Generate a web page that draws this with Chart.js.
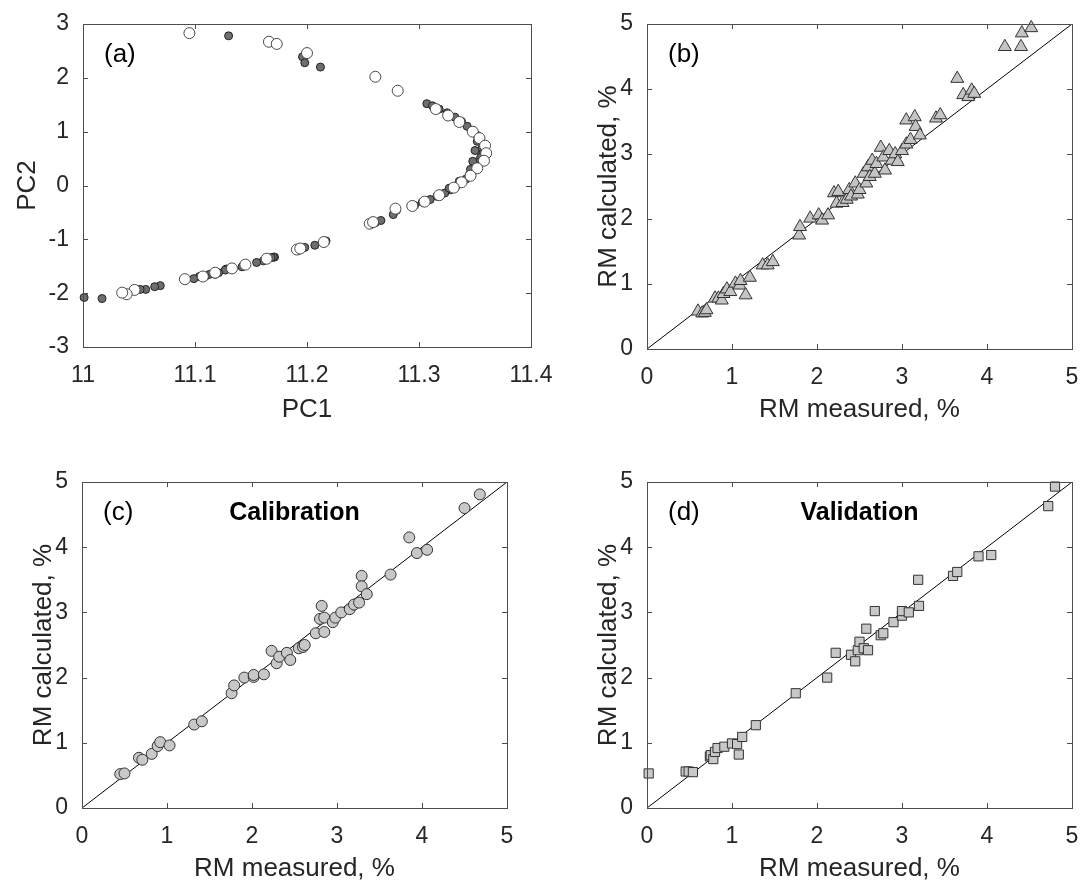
<!DOCTYPE html>
<html>
<head>
<meta charset="utf-8">
<script src="https://cdn.jsdelivr.net/npm/chart.js@4.4.1/dist/chart.umd.min.js"></script>
<style>
    body { margin: 0; background: #fff; overflow: hidden; }
    #wrap { position: relative; width: 1084px; height: 890px; background: #fff; }
    canvas { position: absolute; }
</style>
</head>
<body>
<div id="wrap">
    <canvas id="chart-a" width="560" height="440" style="left:0;top:0"></canvas>
    <canvas id="chart-b" width="524" height="440" style="left:560px;top:0"></canvas>
    <canvas id="chart-c" width="560" height="450" style="left:0;top:440px"></canvas>
    <canvas id="chart-d" width="524" height="450" style="left:560px;top:440px"></canvas>
</div>
<script>
// Panel (a): PCA scores, two groups
const aOpenX = [11.095, 11.166, 11.173, 11.200, 11.261, 11.281,
    11.315, 11.326, 11.336, 11.348, 11.354, 11.359, 11.360, 11.358, 11.352, 11.346, 11.338, 11.331, 11.318, 11.305, 11.294,
    11.279, 11.256, 11.259, 11.191, 11.194, 11.215, 11.164, 11.145, 11.133, 11.118, 11.107, 11.091, 11.046, 11.039, 11.035];
const aOpenY = [2.83, 2.67, 2.63, 2.46, 2.02, 1.76,
    1.42, 1.30, 1.18, 1.00, 0.88, 0.74, 0.60, 0.46, 0.32, 0.18, 0.06, -0.04, -0.18, -0.30, -0.38,
    -0.43, -0.71, -0.68, -1.19, -1.17, -1.05, -1.36, -1.47, -1.54, -1.62, -1.69, -1.74, -1.94, -2.02, -1.99];
const aFillX = [11.130, 11.196, 11.198, 11.212,
    11.307, 11.312, 11.318, 11.325, 11.332, 11.338, 11.343, 11.348, 11.352, 11.355, 11.357, 11.356, 11.357, 11.355, 11.354,
    11.351, 11.349, 11.345, 11.342, 11.338, 11.333, 11.328, 11.323, 11.316, 11.310, 11.303, 11.296, 11.350, 11.352, 11.348,
    11.346, 11.336, 11.327,
    11.277, 11.280, 11.261, 11.266, 11.198, 11.207, 11.217, 11.171, 11.170, 11.168, 11.161, 11.155, 11.144, 11.142,
    11.128, 11.127, 11.121, 11.118, 11.113, 11.109, 11.104, 11.099, 11.069, 11.064, 11.056, 11.051, 11.017, 11.001];
const aFillY = [2.78, 2.39, 2.28, 2.20,
    1.52, 1.48, 1.42, 1.35, 1.27, 1.19, 1.10, 1.02, 0.93, 0.84, 0.76, 0.68, 0.60, 0.52, 0.44,
    0.36, 0.28, 0.20, 0.12, 0.05, -0.02, -0.08, -0.14, -0.20, -0.26, -0.31, -0.37, 0.65, 0.82, 0.45,
    0.30, 0.08, -0.05,
    -0.54, -0.46, -0.69, -0.65, -1.15, -1.11, -1.03, -1.33, -1.33, -1.34, -1.40, -1.43, -1.49, -1.51,
    -1.55, -1.57, -1.62, -1.65, -1.65, -1.69, -1.69, -1.73, -1.86, -1.88, -1.93, -1.93, -2.10, -2.08];
const aTicksX = [11, 11.1, 11.2, 11.3, 11.4];
const aTickLabelsX = ['11', '11.1', '11.2', '11.3', '11.4'];
const aTicksY = [-3, -2, -1, 0, 1, 2, 3];

// Panel (b): RM measured vs calculated (all samples)
const bX = [0.60, 0.65, 0.68, 0.70, 0.80, 0.84, 0.88, 0.90, 0.94, 0.98, 1.04, 1.09, 1.10, 1.16, 1.21, 1.36, 1.42, 1.48,
    1.79, 1.80, 1.92, 2.02, 2.06, 2.13, 2.20, 2.23, 2.25, 2.30, 2.35, 2.38, 2.40, 2.45, 2.48, 2.50, 2.55, 2.58, 2.60,
    2.62, 2.65, 2.68, 2.70, 2.75, 2.78, 2.80, 2.85, 2.88, 2.92, 2.95, 3.00, 3.05, 3.05, 3.10, 3.15, 3.16, 3.21, 3.40,
    3.45, 3.65, 3.72, 3.78, 3.82, 3.85, 4.21, 4.40, 4.41, 4.52];
const bY = [0.58, 0.55, 0.56, 0.60, 0.78, 0.78, 0.75, 0.85, 0.92, 0.88, 1.01, 0.98, 1.05, 0.83, 1.10, 1.29, 1.29, 1.34,
    1.75, 1.88, 2.01, 2.06, 1.98, 2.06, 2.40, 2.24, 2.42, 2.25, 2.30, 2.45, 2.35, 2.55, 2.38, 2.45, 2.70, 2.55, 2.80,
    2.65, 2.90, 2.70, 2.85, 3.10, 2.95, 2.75, 3.05, 2.90, 3.00, 2.88, 3.05, 3.15, 3.52, 3.22, 3.57, 3.42, 3.29, 3.55,
    3.60, 4.16, 3.91, 3.88, 3.98, 3.93, 4.65, 4.65, 4.86, 4.94];

// Panel (c): calibration set
const cX = [0.45, 0.50, 0.67, 0.71, 0.82, 0.89, 0.92, 1.03, 1.32, 1.41, 1.76, 1.79, 1.91, 2.02, 2.02, 2.14, 2.23, 2.29,
    2.32, 2.41, 2.45, 2.55, 2.60, 2.62, 2.75, 2.80, 2.82, 2.85, 2.85, 2.95, 2.98, 3.05, 3.15, 3.20, 3.26, 3.29, 3.29,
    3.35, 3.63, 3.85, 3.94, 4.06, 4.50, 4.68];
const cY = [0.52, 0.53, 0.77, 0.74, 0.83, 0.95, 1.01, 0.96, 1.28, 1.33, 1.76, 1.88, 2.00, 2.01, 2.04, 2.05, 2.41, 2.22,
    2.32, 2.38, 2.27, 2.45, 2.47, 2.50, 2.68, 2.90, 3.10, 2.70, 2.92, 2.85, 2.92, 3.00, 3.05, 3.12, 3.15, 3.56, 3.40,
    3.28, 3.58, 4.15, 3.91, 3.96, 4.60, 4.81];

// Panel (d): validation set
const dX = [0.02, 0.455, 0.49, 0.54, 0.74, 0.75, 0.78, 0.80, 0.83, 0.91, 1.00, 1.06, 1.08, 1.12, 1.28, 1.75, 2.12, 2.22,
    2.40, 2.45, 2.48, 2.50, 2.55, 2.60, 2.58, 2.68, 2.75, 2.78, 2.90, 3.00, 3.00, 3.08, 3.20, 3.19, 3.60, 3.65, 3.90,
    4.05, 4.72, 4.80];
const dY = [0.53, 0.56, 0.56, 0.55, 0.79, 0.81, 0.75, 0.86, 0.92, 0.94, 0.99, 0.98, 0.82, 1.09, 1.27, 1.76, 2.00, 2.38,
    2.35, 2.25, 2.42, 2.55, 2.45, 2.42, 2.75, 3.02, 2.65, 2.68, 2.85, 2.95, 3.02, 3.00, 3.10, 3.50, 3.56, 3.62, 3.86,
    3.88, 4.63, 4.93];

// Shared RM axes and 1:1 line
const rmTicks = [0, 1, 2, 3, 4, 5];
const lineX = [0, 5];
const lineY = [0, 5];

const FONT = "'Liberation Sans', Arial, sans-serif";
const TEXT_COLOR = '#262626';

const toPoints = (xs, ys) => xs.map((x, i) => ({ x: x, y: ys[i] }));

// Builds one linear axis with a fixed size so the plot boxes line up
function makeAxis(min, max, ticks, labels, title, size, titlePad, tickPad) {
    return {
        type: 'linear',
        min: min,
        max: max,
        afterBuildTicks: scale => { scale.ticks = ticks.map(v => ({ value: v })); },
        afterFit: scale => {
            if (scale.isHorizontal()) scale.height = size;
            else scale.width = size;
            // labels may overflow the plot box, like in MATLAB
            scale.paddingLeft = 0;
            scale.paddingRight = 0;
            scale.paddingTop = 0;
            scale.paddingBottom = 0;
        },
        grid: { display: false, drawTicks: false, tickLength: 0 },
        border: { display: false },
        ticks: {
            autoSkip: false,
            maxRotation: 0,
            padding: tickPad,
            color: TEXT_COLOR,
            font: { family: FONT, size: 23 },
            callback: (value, index) => labels ? labels[index] : String(value)
        },
        title: {
            display: true,
            text: title,
            color: TEXT_COLOR,
            font: { family: FONT, size: 26 },
            padding: { top: titlePad, bottom: titlePad }
        }
    };
}

// Box with inward ticks, panel letter and optional title (MATLAB look)
const boxPlugin = {
    id: 'matlabBox',
    afterDatasetsDraw(chart, args, opts) {
        const { ctx, chartArea: a } = chart;
        const x = chart.scales.x, y = chart.scales.y;
        ctx.save();
        ctx.strokeStyle = '#4d4d4d';
        ctx.lineWidth = 1;
        ctx.strokeRect(Math.round(a.left) + 0.5, Math.round(a.top) + 0.5, Math.round(a.width), Math.round(a.height));
        ctx.beginPath();
        x.ticks.forEach(t => {
            const px = Math.round(x.getPixelForValue(t.value)) + 0.5;
            ctx.moveTo(px, a.bottom); ctx.lineTo(px, a.bottom - 5);
            ctx.moveTo(px, a.top); ctx.lineTo(px, a.top + 5);
        });
        y.ticks.forEach(t => {
            const py = Math.round(y.getPixelForValue(t.value)) + 0.5;
            ctx.moveTo(a.left, py); ctx.lineTo(a.left + 5, py);
            ctx.moveTo(a.right, py); ctx.lineTo(a.right - 5, py);
        });
        ctx.stroke();

        ctx.fillStyle = '#000';
        ctx.textBaseline = 'middle';
        ctx.font = '26px ' + FONT;
        ctx.textAlign = 'left';
        ctx.fillText(opts.label, a.left + 21, a.top + 31);
        if (opts.title) {
            ctx.font = 'bold 25px ' + FONT;
            ctx.textAlign = 'center';
            ctx.fillText(opts.title, (a.left + a.right) / 2, a.top + 31);
        }
        ctx.restore();
    }
};

function scatterSet(points, style) {
    return Object.assign({ type: 'scatter', data: points, borderWidth: 1, clip: false }, style);
}

function lineSet() {
    return {
        type: 'line',
        data: toPoints(lineX, lineY),
        borderColor: '#000',
        borderWidth: 1,
        pointRadius: 0,
        order: 10
    };
}

function makeChart(id, datasets, xAxis, yAxis, padding, plugOpts) {
    const ctx = document.getElementById(id).getContext('2d');
    return new Chart(ctx, {
        type: 'scatter',
        data: { datasets: datasets },
        options: {
            responsive: false,
            animation: false,
            layout: { padding: padding },
            scales: { x: xAxis, y: yAxis },
            plugins: {
                legend: { display: false },
                tooltip: { enabled: false },
                matlabBox: plugOpts
            }
        },
        plugins: [boxPlugin]
    });
}

// (a)
makeChart('chart-a', [
    scatterSet(toPoints(aOpenX, aOpenY), { pointRadius: 5.5, backgroundColor: '#ffffff', borderColor: '#4a4a4a' }),
    scatterSet(toPoints(aFillX, aFillY), { pointRadius: 4, backgroundColor: '#6e6e6e', borderColor: '#222222' })
],
    makeAxis(11, 11.4, aTicksX, aTickLabelsX, 'PC1', 93, 14.4, 15),
    makeAxis(-3, 3, aTicksY, null, 'PC2', 83, 12.4, 14),
    { top: 24, right: 29, left: 0, bottom: 0 },
    { label: '(a)' });

// (b)
makeChart('chart-b', [
    lineSet(),
    scatterSet(toPoints(bX, bY), { pointStyle: 'triangle', pointRadius: 7.5, backgroundColor: '#c4c4c4', borderColor: '#333333' })
],
    makeAxis(0, 5, rmTicks, null, 'RM measured, %', 91, 14.4, 15),
    makeAxis(0, 5, rmTicks, null, 'RM calculated, %', 87, 33.4, 14),
    { top: 24, right: 12, left: 0, bottom: 0 },
    { label: '(b)' });

// (c)
makeChart('chart-c', [
    lineSet(),
    scatterSet(toPoints(cX, cY), { pointRadius: 5.5, backgroundColor: '#c8c8c8', borderColor: '#333333' })
],
    makeAxis(0, 5, rmTicks, null, 'RM measured, %', 82, 5.4, 15),
    makeAxis(0, 5, rmTicks, null, 'RM calculated, %', 82, 28.4, 14),
    { top: 42, right: 53, left: 0, bottom: 0 },
    { label: '(c)', title: 'Calibration' });

// (d)
makeChart('chart-d', [
    lineSet(),
    scatterSet(toPoints(dX, dY), { pointStyle: 'rect', pointRadius: 6.5, backgroundColor: '#c8c8c8', borderColor: '#333333' })
],
    makeAxis(0, 5, rmTicks, null, 'RM measured, %', 82, 5.4, 15),
    makeAxis(0, 5, rmTicks, null, 'RM calculated, %', 87, 33.4, 14),
    { top: 42, right: 12, left: 0, bottom: 0 },
    { label: '(d)', title: 'Validation' });
</script>
</body>
</html>
